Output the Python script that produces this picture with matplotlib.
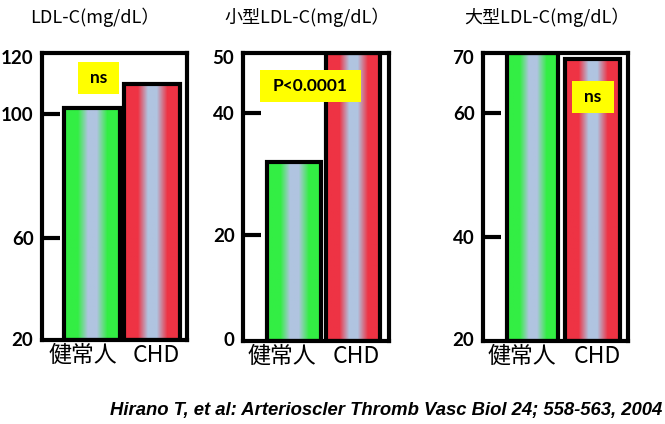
import numpy as np
import matplotlib
matplotlib.use('Agg')
import matplotlib.pyplot as plt
from matplotlib.patches import Rectangle
from matplotlib.transforms import offset_copy

# data
groups = ['健常人', 'CHD']
titles = ['LDL-C(mg/dL）', '小型LDL-C(mg/dL）', '大型LDL-C(mg/dL）']
ldl = [102, 110]
small_ldl = [32, 50]
large_ldl = [70, 69]
values = [ldl, small_ldl, large_ldl]
tick_vals = [[20, 60, 100, 120], [0, 20, 40, 50], [20, 40, 60, 70]]
# the original axes are not evenly spaced: pixel height of each tick above the bottom
tick_px = [[0, 102, 225, 286], [0, 106, 228, 288], [0, 104, 228, 288]]
marks = ['ns', 'P<0.0001', 'ns']

green = np.array([0x33, 0xee, 0x44]) / 255
red = np.array([0xee, 0x33, 0x44]) / 255
blue = np.array([0xb0, 0xc4, 0xe0]) / 255

# horizontal gradient profile across a bar (0 = edge colour, 1 = blue)
t = np.linspace(0, 1, 200)
w = np.interp(t, [0, 0.24, 0.42, 0.58, 0.77, 1], [0, 0, 1, 1, 0, 0])


def gradient(col):
    img = (1 - w)[:, None] * col + w[:, None] * blue
    return img[None, :, :]


plt.rcParams['font.family'] = ['Noto Sans CJK JP', 'DejaVu Sans']
num_font = ['Lato', 'DejaVu Sans']

fig = plt.figure(figsize=(6.65, 4.24), dpi=100)
W, H = 665, 424

# panel boxes in pixels: left, right, top, bottom
boxes = [(42, 187, 53, 340), (243, 389, 53, 341), (483, 628, 53, 341)]
xlims = [(-0.833, 1.582), (-0.864, 1.611), (-0.824, 1.591)]
widths = [[0.93, 0.93], [0.915, 0.915], [0.85, 0.916]]
label_x = [[-0.15, 1.07], [-0.2, 1.06], [-0.17, 1.08]]
mark_boxes = [(0.248, 0.531, 0.857, 0.969), (0.116, 0.808, 0.830, 0.941),
              (0.614, 0.903, 0.792, 0.903)]
title_x = [95, 307, 547]

for i in range(3):
    l, r, tp, bt = boxes[i]
    ax = fig.add_axes([l / W, 1 - bt / H, (r - l) / W, (bt - tp) / H])
    tv, tpx = tick_vals[i], tick_px[i]
    ax.set_yscale('function', functions=(lambda v, a=tv, b=tpx: np.interp(v, a, b),
                                         lambda p, a=tv, b=tpx: np.interp(p, b, a)))
    ymin, ymax = tv[0], tv[-1]

    for j, col in enumerate([green, red]):
        v = values[i][j]
        wd = widths[i][j]
        ax.imshow(gradient(col), extent=(j - wd / 2, j + wd / 2, ymin, v),
                  aspect='auto', interpolation='bilinear', zorder=2)
        ax.bar(j, v - ymin, bottom=ymin, width=wd, facecolor='none',
               edgecolor='black', linewidth=3, zorder=3)
    ax.set_xlim(*xlims[i])
    ax.set_ylim(ymin, ymax)

    for s in ax.spines.values():
        s.set_linewidth(3)
    ax.set_yticks(tv[1:-1])
    ax.set_yticks([], minor=True)
    ax.tick_params(axis='y', direction='in', length=13, width=3, pad=6)
    ax.set_yticklabels([str(x) for x in tv[1:-1]], fontsize=13.5,
                       fontweight='bold', family=num_font)
    # end labels sit at the box corners, the top one a little lower
    ytr = ax.get_yaxis_transform()
    ax.text(-0.06, ymin, str(ymin), transform=ytr, ha='right', va='center',
            fontsize=13.5, fontweight='bold', family=num_font)
    ax.text(-0.06, ymax, str(ymax), transform=offset_copy(ytr, fig=fig, y=-4, units='points'),
            ha='right', va='center', fontsize=13.5, fontweight='bold', family=num_font)

    ax.set_xticks(label_x[i])
    ax.set_xticklabels(groups, fontsize=16.5)
    ax.tick_params(axis='x', length=0, pad=3)

    x0, x1, y0, y1 = mark_boxes[i]
    ax.add_patch(Rectangle((x0, y0), x1 - x0, y1 - y0, transform=ax.transAxes,
                           facecolor='#ffff00', edgecolor='none', zorder=5))
    ax.text((x0 + x1) / 2, (y0 + y1) / 2, marks[i], transform=ax.transAxes,
            ha='center', va='center', fontsize=12.5, fontweight='bold',
            family=num_font, zorder=6)

    fig.text(title_x[i] / W, 1 - 17 / H, titles[i], ha='center', va='center',
             fontsize=13)

fig.text(662 / W, 1 - 410 / H,
         'Hirano T, et al: Arterioscler Thromb Vasc Biol 24; 558-563, 2004',
         ha='right', va='center', fontsize=13.3, fontweight='bold',
         fontstyle='italic', family=['Liberation Sans', 'DejaVu Sans'])

fig.savefig('out.png', dpi=100)
